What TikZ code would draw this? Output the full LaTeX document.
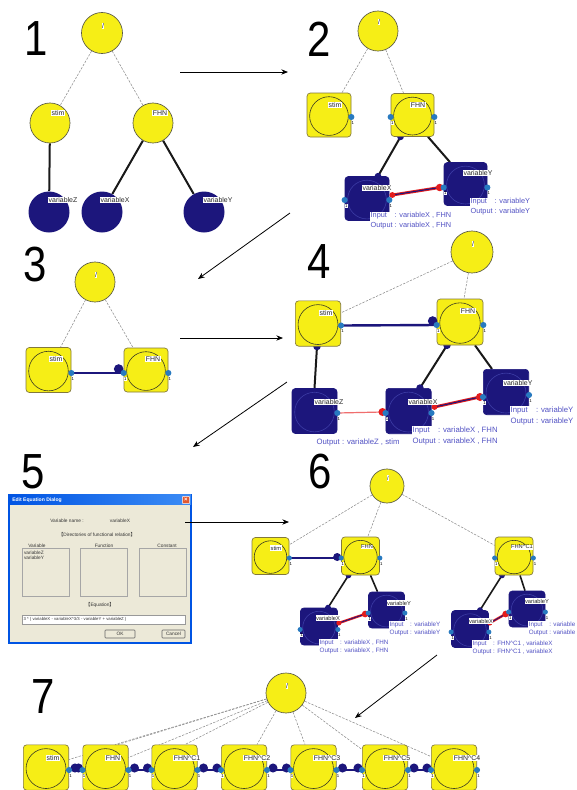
\documentclass[tikz,border=0pt]{standalone}
\usepackage{fontspec}
\setmainfont{Liberation Sans}
\newfontfamily\cjkf{Noto Sans CJK JP}
\usetikzlibrary{calc,arrows.meta}
\pgfdeclarelayer{bg}
\pgfsetlayers{bg,main}
\definecolor{yel}{RGB}{246,238,22}
\definecolor{bedge}{RGB}{130,120,60}
\definecolor{cedge}{RGB}{90,90,70}
\definecolor{icirc}{RGB}{60,60,35}
\definecolor{navyc}{RGB}{28,22,124}
\definecolor{nicirc}{RGB}{60,60,165}
\definecolor{portblue}{RGB}{40,122,192}
\definecolor{redc}{RGB}{228,28,28}
\definecolor{pinkc}{RGB}{240,110,110}
\definecolor{ioblue}{RGB}{82,82,196}
\definecolor{dgray}{RGB}{140,140,140}
\definecolor{beige}{RGB}{236,233,216}
\definecolor{xpblue}{RGB}{0,84,227}
\definecolor{xpblue2}{RGB}{60,140,245}
\definecolor{closec}{RGB}{226,88,48}
\tikzset{
 ycirc/.style={circle, draw=cedge, line width=0.5pt, fill=yel, minimum size=#1, inner sep=0},
 ncirc/.style={circle, fill=navyc, minimum size=#1, inner sep=0},
 ybox/.style={rectangle, rounded corners=2.5pt, draw=bedge, line width=0.5pt, fill=yel, minimum size=#1, inner sep=0,
   path picture={\draw[line width=0.45pt, draw=icirc] ([yshift=-0.8pt]path picture bounding box.center) circle ({0.44*#1});}},
 nbox/.style={rectangle, rounded corners=2.5pt, draw=navyc, line width=0.5pt, fill=navyc, minimum size=#1, inner sep=0,
   path picture={\draw[line width=0.45pt, draw=nicirc] ([yshift=-0.8pt]path picture bounding box.center) circle ({0.44*#1});}},
 lbl/.style={fill=white, inner sep=0.35pt, font=\fontsize{5.2}{5.2}\selectfont, text=black!85},
 slbl/.style={lbl, font=\fontsize{4.3}{4.3}\selectfont},
 io/.style={fill=white, inner sep=0.3pt, font=\fontsize{5.5}{7.5}\selectfont, text=ioblue, anchor=north west, align=left},
 bio/.style={io, font=\fontsize{5.8}{8.2}\selectfont},
 sio/.style={io, font=\fontsize{4.7}{6}\selectfont},
 onelbl/.style={fill=white, inner sep=0.1pt, font=\fontsize{3.2}{3.2}\selectfont, text=black},
 dsh/.style={draw=dgray, line width=0.4pt, dash pattern=on 1.8pt off 1pt},
 blk/.style={draw=black!90, line width=1.5pt},
 nvl/.style={draw=navyc, line width=1.8pt},
 redl/.style={draw=redc, line width=2.2pt},
 nvthin/.style={draw=navyc, line width=0.8pt},
 pinkl/.style={draw=pinkc, line width=0.9pt},
 arr/.style={draw=black, line width=0.6pt, -{Stealth[length=5pt,width=4pt]}},
 bignum/.style={inner sep=0, font=\fontsize{37}{37}\selectfont},
 dlgtxt/.style={inner sep=0.2pt, font=\fontsize{3.6}{4.2}\selectfont, text=black!80},
 sunk/.style={draw=black!35, line width=0.4pt, fill=beige, inner sep=0},
 btn/.style={draw=black!60, line width=0.4pt, fill=beige, inner sep=0, rounded corners=0.6pt, font=\fontsize{3.6}{3.6}\selectfont, text=black!80},
}
\newcommand{\prt}[2][2.3pt]{\fill[portblue] (#2) circle (#1); \node[onelbl] (#2n) at ($(#2)+(1.6,6)$) {1};}
\newcommand{\iot}[2]{\rlap{Input}\phantom{Output} : #1\\Output : #2}
\newcommand{\hatc}{\textasciicircum}
\begin{document}
\begin{tikzpicture}[x=0.75pt,y=-0.75pt]
\useasboundingbox (0,0) rectangle (576,790);
\begin{pgfonlayer}{bg}
\fill[white] (0,0) rectangle (576,790);
\end{pgfonlayer}

% ---------- big numbers
\node[bignum] (n1) at (36,39) {\scalebox{0.85}[1]{1}};
\node[bignum] (n2) at (319,39) {\scalebox{0.85}[1]{2}};
\node[bignum] (n3) at (35,265) {\scalebox{0.85}[1]{3}};
\node[bignum] (n4) at (319,262) {\scalebox{0.85}[1]{4}};
\node[bignum] (n5) at (33,472) {\scalebox{0.85}[1]{5}};
\node[bignum] (n6) at (320,472) {\scalebox{0.85}[1]{6}};
\node[bignum] (n7) at (43,697) {\scalebox{0.85}[1]{7}};

% ---------- panel 1
\node[ycirc=30.75pt] (r1) at (102,33) {};
\node[ycirc=30pt] (s1) at (50,123) {};
\node[ycirc=30pt] (f1) at (153,123) {};
\node[ncirc=30.75pt] (z1) at (49,212) {};
\node[ncirc=30.75pt] (x1) at (102,212) {};
\node[ncirc=30.75pt] (y1) at (204,212) {};
\begin{pgfonlayer}{bg}
\draw[dsh] (r1) -- (s1);
\draw[dsh] (r1) -- (f1);
\draw[blk] (s1) -- (z1);
\draw[blk] (f1) -- (x1);
\draw[blk] (f1) -- (y1);
\end{pgfonlayer}
\node[lbl] (r1t) at (103,26) {/};
\node[lbl] (s1t) at (58,113) {stim};
\node[lbl] (f1t) at (160,113) {FHN};
\node[lbl] (z1t) at (63,200) {variableZ};
\node[lbl] (x1t) at (115,200) {variableX};
\node[lbl] (y1t) at (218,200) {variableY};

% ---------- panel 2
\node[ycirc=30pt] (r2) at (378,31) {};
\node[ybox=33pt] (s2) at (329,115) {};
\node[ybox=32.25pt] (f2) at (412.5,115) {};
\node[nbox=33pt] (x2) at (367,198.5) {};
\node[nbox=32.25pt] (y2) at (465.5,184) {};
\coordinate (s2e) at ($(s2.east)+(0,2)$);
\coordinate (f2w) at ($(f2.west)+(0,2)$);
\coordinate (f2e) at ($(f2.east)+(0,2)$);
\coordinate (x2w) at ($(x2.west)+(0,1.5)$);
\coordinate (x2e) at ($(x2.east)+(0,1.5)$);
\coordinate (y2w) at ($(y2.west)+(0,3.5)$);
\coordinate (y2e) at ($(y2.east)+(0,3.5)$);
\begin{pgfonlayer}{bg}
\draw[dsh] (r2) -- (s2);
\draw[dsh] (r2) -- (f2);
\coordinate (f2b1) at ($(f2.south)+(-12,0)$);
\coordinate (x2t) at ($(x2.north)+(11,0)$);
\draw[blk] (f2b1) -- (x2t);
\fill[navyc] (f2b1) circle (2.5pt);
\fill[navyc] (x2t) circle (2.5pt);
\draw[blk] ($(f2.south)+(15.5,0)$) -- ($(y2.north)+(-15.5,0)$);
\end{pgfonlayer}
\coordinate (x2r) at ($(x2e)+(3,-5)$);
\coordinate (y2r) at ($(y2w)+(-4,0)$);
\draw[redl] (x2r) -- (y2r);
\draw[nvthin] (x2r) -- (y2r);
\fill[redc] (x2r) circle (2.2pt);
\fill[redc] (y2r) circle (2.8pt);
\prt{s2e} \prt{f2w} \prt{f2e} \prt{x2w} \prt{x2e} \prt{y2w} \prt{y2e}
\node[lbl] (r2t) at (379,22) {/};
\node[lbl] (s2t) at (335,105) {stim};
\node[lbl] (f2t) at (418,105) {FHN};
\node[lbl] (x2t2) at (377,188) {variableX};
\node[lbl] (y2t) at (478,173) {variableY};
\node[io] (x2io) at (370,212) {\iot{variableX , FHN}{variableX , FHN}};
\node[io] (y2io) at (470,198) {\iot{variableY}{variableY}};

% ---------- panel 3
\node[ycirc=30pt] (r3) at (95,282) {};
\node[ybox=33.75pt] (s3) at (48.5,370) {};
\node[ybox=33pt] (f3) at (146,370) {};
\coordinate (s3e) at ($(s3.east)+(0,3)$);
\coordinate (f3w) at ($(f3.west)+(0,3)$);
\coordinate (f3e) at ($(f3.east)+(0,3)$);
\begin{pgfonlayer}{bg}
\draw[dsh] (r3) -- (s3);
\draw[dsh] (r3) -- (f3);
\end{pgfonlayer}
\draw[nvl] (s3e) -- (f3w);
\fill[navyc] ($(f3w)+(-5,-4)$) circle (3.6pt);
\prt{s3e} \prt{f3w} \prt{f3e}
\node[lbl] (r3t) at (96,275) {/};
\node[lbl] (s3t) at (56,359) {stim};
\node[lbl] (f3t) at (153,359) {FHN};

% ---------- panel 4
\node[ycirc=31.5pt] (r4) at (472,252) {};
\node[ybox=34pt] (s4) at (318,323.5) {};
\node[ybox=34.5pt] (f4) at (460,322) {};
\node[nbox=33.75pt] (z4) at (314.5,411) {};
\node[nbox=34pt] (x4) at (408.5,411) {};
\node[nbox=34pt] (y4) at (506,392) {};
\coordinate (s4e) at ($(s4.east)+(0,2)$);
\coordinate (f4w) at ($(f4.west)+(0,3)$);
\coordinate (f4e) at ($(f4.east)+(0,3)$);
\coordinate (z4e) at ($(z4.east)+(0,2)$);
\coordinate (x4w) at ($(x4.west)+(0,2)$);
\coordinate (x4e) at ($(x4.east)+(0,2)$);
\coordinate (y4w) at ($(y4.west)+(0,5)$);
\coordinate (y4e) at ($(y4.east)+(0,3)$);
\begin{pgfonlayer}{bg}
\draw[dsh] (r4) -- (s4);
\draw[dsh] (r4) -- (f4);
\coordinate (s4b) at ($(s4.south)+(-1,0)$);
\draw[blk] (s4b) -- ($(z4.north)+(0,0)$);
\fill[navyc] (s4b) circle (2.8pt);
\coordinate (f4b1) at ($(f4.south)+(-13,0)$);
\coordinate (x4t) at ($(x4.north)+(11.5,0)$);
\draw[blk] (f4b1) -- (x4t);
\fill[navyc] (f4b1) circle (2.8pt);
\fill[navyc] (x4t) circle (2.8pt);
\draw[blk] ($(f4.south)+(15,0)$) -- ($(y4.north)+(-14,0)$);
\end{pgfonlayer}
\draw[nvl] (s4e) -- (f4w);
\fill[navyc] ($(f4w)+(-4,-4)$) circle (3.6pt);
\coordinate (x4l) at ($(x4w)+(-3,-1)$);
\draw[pinkl] (z4e) -- (x4l);
\fill[redc] (x4l) circle (3pt);
\coordinate (x4r) at ($(x4e)+(3,-6)$);
\coordinate (y4r) at ($(y4w)+(-3,0)$);
\draw[redl] (x4r) -- (y4r);
\draw[nvthin] (x4r) -- (y4r);
\fill[redc] (x4r) circle (2.2pt);
\fill[redc] (y4r) circle (3pt);
\prt{s4e} \prt{f4w} \prt{f4e} \prt{z4e} \prt{x4w} \prt{x4e} \prt{y4w} \prt{y4e}
\node[lbl] (r4t) at (473,244) {/};
\node[lbl] (s4t) at (326,313) {stim};
\node[lbl] (f4t) at (468,311) {FHN};
\node[lbl] (z4t) at (329,402) {variableZ};
\node[lbl] (x4t2) at (423,402) {variableX};
\node[lbl] (y4t) at (518,383) {variableY};
\node[bio] (y4io) at (510,406) {\iot{variableY}{variableY}};
\node[bio] (x4io) at (412,426) {\iot{variableX , FHN}{variableX , FHN}};
\node[bio, anchor=west] (z4io) at (316,442) {Output : variableZ , stim};

% ---------- panel 5 (dialog)
\node[draw=xpblue, line width=1.2pt, fill=beige, minimum width=136.5pt, minimum height=111pt, inner sep=0] (dlg) at (100,569) {};
\node[shading=axis, left color=xpblue, right color=xpblue2, minimum width=136.5pt, minimum height=7.5pt, inner sep=0, anchor=north] (tb) at (dlg.north) {};
\node[anchor=west, inner sep=0, text=white, font=\fontsize{3.8}{3.8}\selectfont\bfseries] (tt) at (12,500.5) {Edit Equation Dialog};
\node[fill=closec, draw=white, line width=0.3pt, minimum size=5.5pt, inner sep=0, rounded corners=0.6pt, text=white, font=\fontsize{4.5}{4.5}\selectfont\bfseries] (cb) at (186,500) {×};
\node[dlgtxt] (vn) at (67,521) {Variable name :};
\node[dlgtxt] (vv) at (120,521) {variableX};
\node[dlgtxt] (dir) at (97,535) {{\cjkf 【}Directories of functional relation{\cjkf 】}};
\node[dlgtxt] (hv) at (37,546) {Variable};
\node[dlgtxt] (hf) at (104,546) {Function};
\node[dlgtxt] (hc) at (167,546) {Constant};
\node[sunk, minimum width=35.25pt, minimum height=36pt] (lv) at (45.5,572) {};
\node[sunk, minimum width=35.25pt, minimum height=36pt] (lf) at (103.5,572) {};
\node[sunk, minimum width=35.25pt, minimum height=36pt] (lc) at (162.5,572) {};
\node[dlgtxt, anchor=north west, align=left] (lvt) at (23.5,550) {variableZ\\variableY};
\node[dlgtxt] (eqh) at (100,605) {{\cjkf 【}Equation{\cjkf 】}};
\node[draw=black!40, line width=0.4pt, fill=white, minimum width=122.25pt, minimum height=6.75pt, inner sep=0] (eqb) at (103.5,619.5) {};
\node[dlgtxt, anchor=west, font=\fontsize{3.2}{3.2}\selectfont] (eqt) at (23,619.5) {3 * ( variableX - variableX\hatc 3/3 - variableY + variableZ )};
\node[btn, minimum width=22.5pt, minimum height=6pt] (ok) at (120,634) {OK};
\node[btn, minimum width=17.25pt, minimum height=6pt] (cancel) at (173.5,634) {Cancel};

% ---------- panel 6
\node[ycirc=25.5pt] (r6) at (387,486) {};
\node[ybox=27.75pt] (s6) at (270.5,556) {};
\node[ybox=28.5pt] (f6) at (360.5,556) {};
\node[ybox=28.5pt] (c6) at (514,556) {};
\node[nbox=27.75pt] (x6) at (319,626.5) {};
\node[nbox=27pt] (y6) at (386.5,610) {};
\node[nbox=27.75pt] (xx6) at (470,629) {};
\node[nbox=27pt] (yy6) at (527,609) {};
\coordinate (s6e) at ($(s6.east)+(0,2)$);
\coordinate (f6w) at ($(f6.west)+(0,2)$);
\coordinate (f6e) at ($(f6.east)+(0,2)$);
\coordinate (c6w) at ($(c6.west)+(0,2)$);
\coordinate (c6e) at ($(c6.east)+(0,2)$);
\coordinate (x6w) at ($(x6.west)+(0,3)$);
\coordinate (x6e) at ($(x6.east)+(0,3)$);
\coordinate (y6w) at ($(y6.west)+(0,3)$);
\coordinate (y6e) at ($(y6.east)+(0,3)$);
\coordinate (xx6w) at ($(xx6.west)+(0,3)$);
\coordinate (xx6e) at ($(xx6.east)+(0,3)$);
\coordinate (yy6w) at ($(yy6.west)+(0,3)$);
\coordinate (yy6e) at ($(yy6.east)+(0,3)$);
\begin{pgfonlayer}{bg}
\draw[dsh] (r6) -- (s6);
\draw[dsh] (r6) -- (f6);
\draw[dsh] (r6) -- (c6);
\coordinate (f6b1) at ($(f6.south)+(-12,0)$);
\coordinate (x6t) at ($(x6.north)+(9,0)$);
\draw[blk, line width=1.2pt] (f6b1) -- (x6t);
\fill[navyc] (f6b1) circle (2.2pt);
\fill[navyc] (x6t) circle (2.2pt);
\draw[blk, line width=1.2pt] ($(f6.south)+(10,0)$) -- ($(y6.north)+(-9,0)$);
\coordinate (c6b1) at ($(c6.south)+(-12,0)$);
\coordinate (xx6t) at ($(xx6.north)+(10,0)$);
\draw[blk, line width=1.2pt] (c6b1) -- (xx6t);
\fill[navyc] (c6b1) circle (2.2pt);
\fill[navyc] (xx6t) circle (2.2pt);
\draw[blk, line width=1.2pt] ($(c6.south)+(6,0)$) -- ($(yy6.north)+(-2,0)$);
\end{pgfonlayer}
\draw[nvl, line width=1.5pt] (s6e) -- (f6w);
\fill[navyc] ($(f6w)+(-4,-1)$) circle (3pt);
\coordinate (x6r) at ($(x6e)+(1,-6.5)$);
\coordinate (y6r) at ($(y6w)+(-3,1)$);
\draw[redl, line width=1.8pt] (x6r) -- (y6r);
\draw[nvthin, line width=0.6pt] (x6r) -- (y6r);
\fill[redc] (x6r) circle (1.9pt);
\fill[redc] (y6r) circle (2.5pt);
\coordinate (xx6r) at ($(xx6e)+(1,-9)$);
\coordinate (yy6r) at ($(yy6w)+(-3,2)$);
\draw[redl, line width=1.8pt] (xx6r) -- (yy6r);
\draw[nvthin, line width=0.6pt] (xx6r) -- (yy6r);
\fill[redc] (xx6r) circle (1.9pt);
\fill[redc] (yy6r) circle (2.5pt);
\prt[1.9pt]{s6e} \prt[1.9pt]{f6w} \prt[1.9pt]{f6e} \prt[1.9pt]{c6w} \prt[1.9pt]{c6e}
\prt[1.9pt]{x6w} \prt[1.9pt]{x6e} \prt[1.9pt]{y6e} \prt[1.9pt]{y6w}
\prt[1.9pt]{xx6w} \prt[1.9pt]{xx6e} \prt[1.9pt]{yy6e} \prt[1.9pt]{yy6w}
\node[slbl] (r6t) at (388,478) {/};
\node[slbl] (s6t) at (276,548) {stim};
\node[slbl] (f6t) at (367,547) {FHN};
\node[slbl] (c6t) at (522,547) {FHN\hatc C1};
\node[slbl] (x6t2) at (328,618) {variableX};
\node[slbl] (y6t) at (399,603) {variableY};
\node[slbl] (xx6t2) at (481,621) {variableX};
\node[slbl] (yy6t) at (537,601) {variableY};
\node[sio] (y6io) at (389,621) {\iot{variableY}{variableY}};
\node[sio] (x6io) at (319,639) {\iot{variableX , FHN}{variableX , FHN}};
\node[sio] (xx6io) at (472,640) {\iot{FHN\hatc C1 , variableX}{FHN\hatc C1 , variableX}};
\node[sio, anchor=north east] (yy6io) at (576,621) {\iot{variable}{variable}};

% ---------- panel 7
\node[ycirc=30pt] (r7) at (286,693) {};
\node[ybox=34pt] (st7) at (46,767.5) {};
\node[ybox=34pt] (f7) at (105.5,767.5) {};
\node[ybox=34pt] (c71) at (174.5,767.5) {};
\node[ybox=34pt] (c72) at (244,767.5) {};
\node[ybox=34pt] (c73) at (313.5,767.5) {};
\node[ybox=34pt] (c75) at (385,767.5) {};
\node[ybox=34pt] (c74) at (454,767.5) {};
\foreach \b in {st7,f7,c71,c72,c73,c75,c74} {
  \coordinate (\b e) at ($(\b.east)+(0,2.5)$);
  \coordinate (\b w) at ($(\b.west)+(0,2.5)$);
}
\begin{pgfonlayer}{bg}
\draw[dsh] (r7) -- ($(st7.east)+(0,-8)$);
\draw[dsh] (r7) -- ($(f7.north)+(9.5,0)$);
\draw[dsh] (r7) -- ($(f7.east)+(0,-10)$);
\draw[dsh] (r7) -- ($(c71.north)+(10.5,0)$);
\draw[dsh] (r7) -- ($(c72.north)+(13,0)$);
\draw[dsh] (r7) -- ($(c73.north)+(-8.5,0)$);
\draw[dsh] (r7) -- ($(c75.north west)+(0,5)$);
\draw[dsh] (r7) -- ($(c74.north west)+(0,12)$);
\end{pgfonlayer}
\foreach \a/\b in {st7/f7,f7/c71,c71/c72,c72/c73,c73/c75,c75/c74} {
  \draw[nvl] (\a e) -- (\b w);
  \fill[navyc] ($(\a e)+(6,-2)$) circle (3.4pt);
  \fill[navyc] ($(\b w)+(-4,-2)$) circle (3.4pt);
}
\prt{st7e} \prt{f7w} \prt{f7e} \prt{c71w} \prt{c71e} \prt{c72w} \prt{c72e}
\prt{c73w} \prt{c73e} \prt{c75w} \prt{c75e} \prt{c74w} \prt{c74e}
\node[lbl] (r7t) at (287,686) {/};
\node[lbl] (st7t) at (53,758) {stim};
\node[lbl] (f7t) at (113,758) {FHN};
\node[lbl] (c71t) at (187,758) {FHN\hatc C1};
\node[lbl] (c72t) at (257,758) {FHN\hatc C2};
\node[lbl] (c73t) at (327,758) {FHN\hatc C3};
\node[lbl] (c75t) at (397,758) {FHN\hatc C5};
\node[lbl] (c74t) at (467,758) {FHN\hatc C4};

% ---------- arrows between panels
\coordinate (a1s) at (180,72);  \coordinate (a1e) at (288,72);
\coordinate (a2s) at (290,213); \coordinate (a2e) at (198,279);
\coordinate (a3s) at (180,338); \coordinate (a3e) at (283,338);
\coordinate (a4s) at (287,382); \coordinate (a4e) at (193,447);
\coordinate (a5s) at (185,522); \coordinate (a5e) at (289,522);
\coordinate (a6s) at (437,655); \coordinate (a6e) at (355,718);
\draw[arr] (a1s) -- (a1e);
\draw[arr] (a2s) -- (a2e);
\draw[arr] (a3s) -- (a3e);
\draw[arr] (a4s) -- (a4e);
\draw[arr] (a5s) -- (a5e);
\draw[arr] (a6s) -- (a6e);
\end{tikzpicture}
\end{document}
